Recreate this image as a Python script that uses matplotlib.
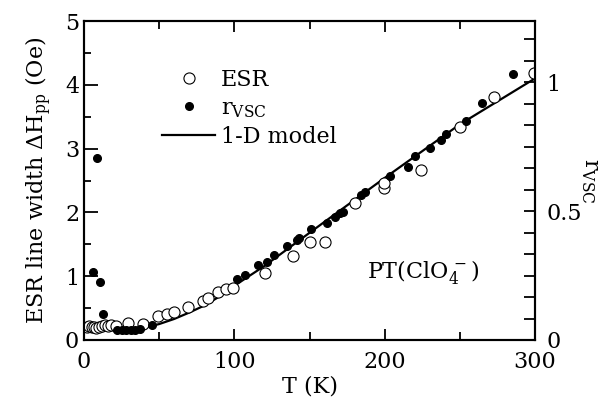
import matplotlib
matplotlib.use("Agg")
import matplotlib.pyplot as plt
from matplotlib.ticker import MultipleLocator, FuncFormatter
from matplotlib.lines import Line2D

plt.rcParams['font.family'] = 'DejaVu Serif'
plt.rcParams['mathtext.fontset'] = 'dejavuserif'

# ESR line width (Oe), open circles
esr_T = [2, 3.5, 5, 6.5, 8, 10, 12, 14, 16, 18, 21, 29.5, 39, 49, 55, 60, 69, 79,
         82.5, 89, 94.5, 99, 120.5, 139, 150, 160, 180, 199.5, 199.5, 224.5, 250,
         273, 299.5]
esr_H = [0.21, 0.22, 0.20, 0.21, 0.19, 0.21, 0.22, 0.23, 0.22, 0.23, 0.22, 0.27,
         0.25, 0.37, 0.41, 0.44, 0.52, 0.61, 0.66, 0.75, 0.80, 0.82, 1.05, 1.31,
         1.54, 1.54, 2.15, 2.38, 2.46, 2.66, 3.34, 3.81, 4.18]

# r_VSC, filled dots (right axis)
rvsc_T = [6.2, 8.4, 10.6, 12.4, 22, 25, 28, 31, 34, 37, 45, 101.6, 107, 116,
          121.5, 126.5, 135, 141.5, 143, 151, 161.5, 167, 170.5, 172, 184, 187,
          203.6, 215.6, 220, 230, 237.5, 241, 254, 265, 285.6]
rvsc_r = [0.265, 0.708, 0.225, 0.101, 0.040, 0.037, 0.040, 0.037, 0.040, 0.042,
          0.059, 0.238, 0.252, 0.292, 0.304, 0.329, 0.366, 0.389, 0.396, 0.431,
          0.455, 0.478, 0.493, 0.498, 0.562, 0.574, 0.636, 0.673, 0.713, 0.745,
          0.775, 0.800, 0.851, 0.918, 1.032]

# 1-D model curve
model_T = [20, 30, 40, 50, 60, 70, 80, 90, 100, 120, 150, 200, 250, 300]
model_H = [0.14, 0.15, 0.19, 0.25, 0.33, 0.43, 0.54, 0.68, 0.85, 1.16, 1.68,
           2.54, 3.38, 4.1]

fig = plt.figure(figsize=(6.02, 4.03), dpi=100)
ax = fig.add_axes([84/602, 1-340/403, (535-84)/602, (340-21)/403])
ax2 = ax.twinx()

ax.plot(model_T, model_H, color='black', lw=1.6, zorder=2)
ax.plot(esr_T, esr_H, 'o', mfc='white', mec='black', mew=0.8, ms=8, zorder=3)
ax2.plot(rvsc_T, rvsc_r, 'o', color='black', ms=5.5, zorder=3)

ax.set_xlim(0, 300)
ax.set_ylim(0, 5)
ax2.set_ylim(0, 5/4.04)

ax.xaxis.set_major_locator(MultipleLocator(100))
ax.xaxis.set_minor_locator(MultipleLocator(50))
ax.yaxis.set_major_locator(MultipleLocator(1))
ax.yaxis.set_minor_locator(MultipleLocator(0.5))
ax2.yaxis.set_major_locator(MultipleLocator(0.5))
ax2.yaxis.set_minor_locator(MultipleLocator(1/12))
ax2.yaxis.set_major_formatter(FuncFormatter(lambda v, p: '%g' % v))

fs = 16
ax.tick_params(axis='x', which='both', direction='in', top=True, labelsize=fs,
               width=1.3, pad=8)
ax.tick_params(axis='x', which='major', length=8)
ax.tick_params(axis='x', which='minor', length=6)
ax.tick_params(axis='y', which='both', direction='in', right=False, labelsize=fs,
               width=1.3)
ax.tick_params(axis='y', which='major', length=10)
ax.tick_params(axis='y', which='minor', length=5)
ax2.tick_params(axis='y', which='both', direction='in', length=8, width=1.3,
                labelsize=fs, pad=8)
for a in (ax, ax2):
    for s in a.spines.values():
        s.set_linewidth(1.5)

ax.set_xlabel('T (K)', fontsize=fs, labelpad=2)
ax.set_ylabel(r'ESR line width $\Delta$H$_{\rm pp}$ (Oe)', fontsize=fs, labelpad=8)
ax2.set_ylabel(r'r$_{\rm VSC}$', fontsize=fs, rotation=270, labelpad=14)

ax.text(188, 1.07, r'PT(ClO$_4^{\,-}$)', fontsize=fs, ha='left', va='center')

handles = [
    Line2D([], [], ls='none', marker='o', mfc='white', mec='black', mew=0.8, ms=8),
    Line2D([], [], ls='none', marker='o', color='black', ms=5.5),
    Line2D([], [], color='black', lw=1.6),
]
labels = ['ESR', r'r$_{\rm VSC}$', '1-D model']
ax2.legend(handles, labels, loc='upper left', bbox_to_anchor=(162/602, 1-69/403),
           bbox_transform=fig.transFigure, frameon=False, fontsize=fs,
           handlelength=2.4, handletextpad=0.25, labelspacing=0.28,
           borderpad=0, borderaxespad=0)

fig.savefig('out.png', dpi=100)
